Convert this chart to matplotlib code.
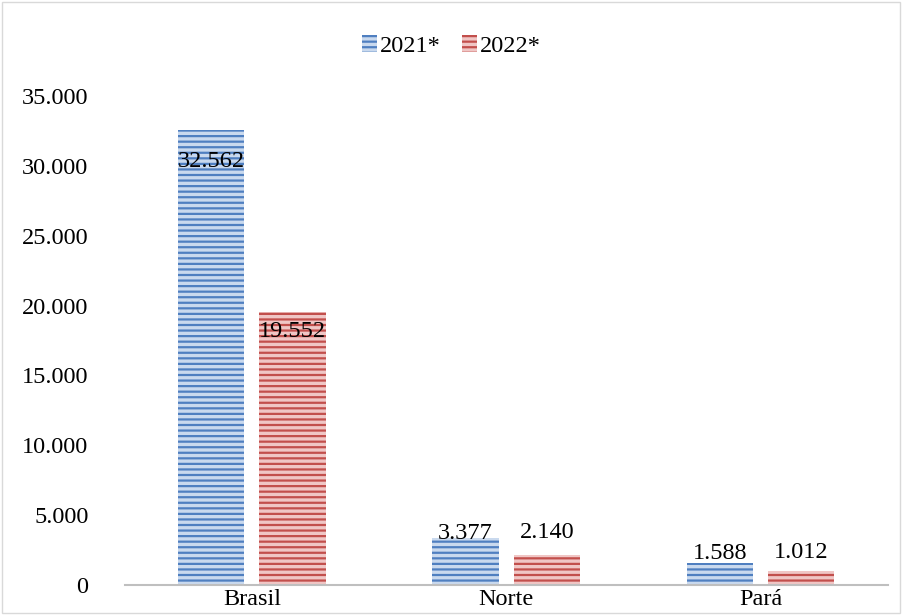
import matplotlib.pyplot as plt
import numpy as np

plt.rcParams["font.family"] = ["Liberation Serif", "DejaVu Serif"]
plt.rcParams["hatch.linewidth"] = 1.6

regions = ["Brasil", "Norte", "Pará"]
series_names = ["2021*", "2022*"]
values_2021 = [32562, 3377, 1588]
values_2022 = [19552, 2140, 1012]
y_ticks = [0, 5000, 10000, 15000, 20000, 25000, 30000, 35000]

FACE = {"2021*": "#c9d9ee", "2022*": "#f0c6c5"}
STRIPE = {"2021*": "#4f7fc0", "2022*": "#c24f4c"}
AXIS_GRAY = "#bfbfbf"

# label offsets (points) relative to the bar top
label_offsets = {
  "2021*": [-23, 3, 7],
  "2022*": [-14, 16, 13],
}


def fmt_thousands(v):
  return f"{v:,.0f}".replace(",", ".")


fig = plt.figure(figsize=(9.03, 6.15), dpi=100)
ax = fig.add_axes([0.138, 0.0488, 0.845, 0.7952])

x = np.arange(len(regions))
width = 0.26
offset = 0.16
FS = 17.5

for name, vals, sign in [("2021*", values_2021, -1), ("2022*", values_2022, 1)]:
  bars = ax.bar(
    x + sign * offset, vals, width=width,
    color=FACE[name], edgecolor=STRIPE[name], linewidth=0,
    hatch="---", label=name,
  )
  for bar, v, dy in zip(bars, vals, label_offsets[name]):
    ax.annotate(
      fmt_thousands(v),
      (bar.get_x() + bar.get_width() / 2, v),
      xytext=(0, dy), textcoords="offset points",
      ha="center", va="center", fontsize=FS, color="black",
    )

ax.set_xlim(-0.5, 2.5)
ax.set_ylim(0, 35000)
ax.set_yticks(y_ticks)
ax.set_yticklabels([fmt_thousands(t) for t in y_ticks])
ax.set_xticks(x)
ax.set_xticklabels(regions)
ax.tick_params(axis="both", length=0, labelsize=FS, colors="black")
ax.tick_params(axis="y", pad=26)
ax.tick_params(axis="x", pad=3)

for spine in ["top", "right", "left"]:
  ax.spines[spine].set_visible(False)
ax.spines["bottom"].set_color(AXIS_GRAY)
ax.spines["bottom"].set_linewidth(1.5)

fig.legend(
  loc="center", bbox_to_anchor=(0.5, 0.925), ncol=2, frameon=False,
  fontsize=FS, handlelength=0.6, handleheight=0.7, handletextpad=0.12,
  columnspacing=0.9,
)

# light frame round the whole chart
fig.patches.append(plt.Rectangle(
  (0.002, 0.003), 0.995, 0.994, transform=fig.transFigure,
  fill=False, edgecolor="#d9d9d9", linewidth=1.0,
))

fig.savefig("out.png", dpi=100, facecolor="white")
